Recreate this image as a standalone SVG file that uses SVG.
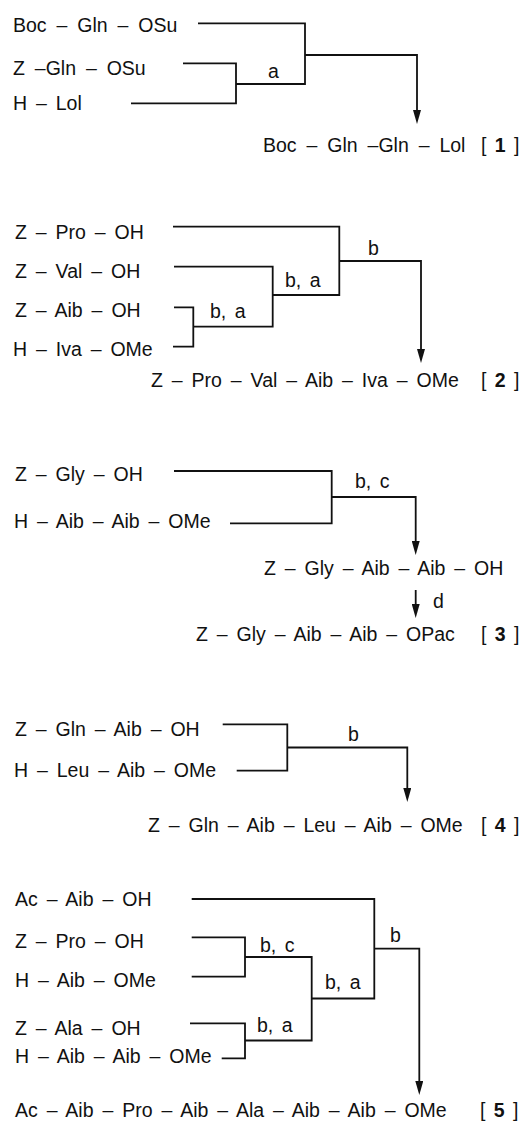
<svg xmlns="http://www.w3.org/2000/svg" width="531" height="1128" viewBox="0 0 531 1128">
<style>
text{font-family:"Liberation Sans",Arial,sans-serif;font-size:19.5px;fill:#111;word-spacing:3.5px}
.boc{word-spacing:4.5px}
.br{word-spacing:3px}
.lb{word-spacing:3px}
.c{fill:none;stroke:#111;stroke-width:1.8}
</style>
<defs>
<marker id="ah" markerUnits="userSpaceOnUse" markerWidth="14" markerHeight="8" refX="8" refY="4" orient="auto">
<path d="M0,0 L14,4 L0,8 z" fill="#111"/>
</marker>
</defs>
<rect width="531" height="1128" fill="#fff"/>
<g id="connectors">
<path class="c" d="M198,23.3 H305 V84 H236"/>
<path class="c" d="M183,63.3 H236 V103.3 H131"/>
<path class="c" d="M305,55 H417 V118" marker-end="url(#ah)"/>
<path class="c" d="M173,226.7 H339.3 V295 H272.7"/>
<path class="c" d="M174,266.7 H272.7 V326.7 H193.3"/>
<path class="c" d="M174,307.3 H193.3 V346.7 H173"/>
<path class="c" d="M339.3,261 H421 V357" marker-end="url(#ah)"/>
<path class="c" d="M174,471 H331.7 V523.3 H230"/>
<path class="c" d="M331.7,497 H415.7 V549" marker-end="url(#ah)"/>
<path class="c" d="M415.7,590 V612" marker-end="url(#ah)"/>
<path class="c" d="M222.7,724.3 H287.3 V770.7 H236.7"/>
<path class="c" d="M287.3,747.5 H407.3 V796" marker-end="url(#ah)"/>
<path class="c" d="M191.7,899 H374.3 V998.5 H311.7"/>
<path class="c" d="M191.7,937.3 H245 V976.7 H191.7"/>
<path class="c" d="M245,957 H311.7 V1040.5 H245"/>
<path class="c" d="M190,1023.3 H245 V1058.3 H221.7"/>
<path class="c" d="M374.3,948.7 H419.3 V1089" marker-end="url(#ah)"/>
<g id="labels">
<text class="lb" x="268" y="78">a</text>
<text class="lb" x="210" y="318">b, a</text>
<text class="lb" x="285" y="287">b, a</text>
<text class="lb" x="368" y="255">b</text>
<text class="lb" x="355" y="488">b, c</text>
<text class="lb" x="433" y="608">d</text>
<text class="lb" x="348" y="741">b</text>
<text class="lb" x="260" y="952">b, c</text>
<text class="lb" x="325" y="989">b, a</text>
<text class="lb" x="257" y="1032">b, a</text>
<text class="lb" x="390" y="942">b</text>
</g>
</g>
<g id="s1-boc-gln-osu"><text class="boc" x="13" y="32">Boc – Gln – OSu</text></g>
<g id="s1-z-gln-osu"><text class="boc" x="13" y="75">Z –Gln – OSu</text></g>
<g id="s1-h-lol"><text x="13" y="110">H – Lol</text></g>
<g id="p1"><text class="boc" x="263" y="152">Boc – Gln –Gln – Lol</text><text class="br" x="481" y="152">[ <tspan font-weight="bold">1</tspan> ]</text></g>
<g id="s2-z-pro-oh"><text x="15" y="239">Z – Pro – OH</text></g>
<g id="s2-z-val-oh"><text x="15" y="278">Z – Val – OH</text></g>
<g id="s2-z-aib-oh"><text x="15" y="317">Z – Aib – OH</text></g>
<g id="s2-h-iva-ome"><text x="13" y="356">H – Iva – OMe</text></g>
<g id="p2"><text x="151" y="387">Z – Pro – Val – Aib – Iva – OMe</text><text class="br" x="481" y="387">[ <tspan font-weight="bold">2</tspan> ]</text></g>
<g id="s3-z-gly-oh"><text x="15" y="481">Z – Gly – OH</text></g>
<g id="s3-h-aib-aib-ome"><text x="14" y="528">H – Aib – Aib – OMe</text></g>
<g id="s3-intermediate"><text x="264" y="575">Z – Gly – Aib – Aib – OH</text></g>
<g id="p3"><text x="196" y="641">Z – Gly – Aib – Aib – OPac</text><text class="br" x="481" y="641">[ <tspan font-weight="bold">3</tspan> ]</text></g>
<g id="s4-z-gln-aib-oh"><text x="15" y="736">Z – Gln – Aib – OH</text></g>
<g id="s4-h-leu-aib-ome"><text x="14" y="777">H – Leu – Aib – OMe</text></g>
<g id="p4"><text x="148" y="832">Z – Gln – Aib – Leu – Aib – OMe</text><text class="br" x="481" y="832">[ <tspan font-weight="bold">4</tspan> ]</text></g>
<g id="s5-ac-aib-oh"><text x="15" y="906">Ac – Aib – OH</text></g>
<g id="s5-z-pro-oh"><text x="15" y="948">Z – Pro – OH</text></g>
<g id="s5-h-aib-ome"><text x="15" y="987">H – Aib – OMe</text></g>
<g id="s5-z-ala-oh"><text x="15" y="1035">Z – Ala – OH</text></g>
<g id="s5-h-aib-aib-ome"><text x="15" y="1063">H – Aib – Aib – OMe</text></g>
<g id="p5"><text x="15" y="1117">Ac – Aib – Pro – Aib – Ala – Aib – Aib – OMe</text><text class="br" x="480" y="1117">[ <tspan font-weight="bold">5</tspan> ]</text></g>
</svg>
